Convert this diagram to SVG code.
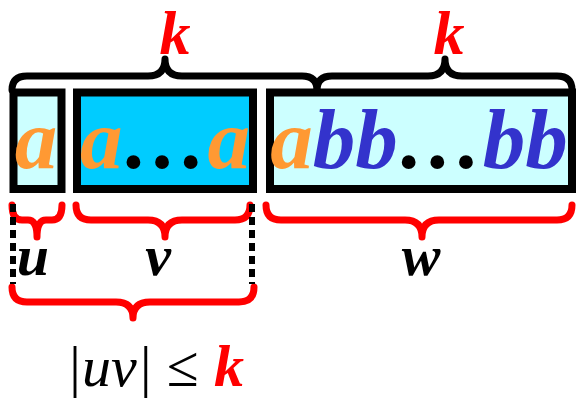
<svg xmlns="http://www.w3.org/2000/svg" width="577" height="399" viewBox="0 0 577 399">
<style>
.box{stroke:#000;stroke-width:8}
.bt{font-family:"Liberation Serif","Times New Roman",serif;font-weight:bold;font-style:italic;font-size:85px}
.kb{font-family:"Liberation Serif","Times New Roman",serif;font-weight:bold;font-style:italic;fill:#FF0000}
.lab{font-family:"Liberation Serif","Times New Roman",serif;font-weight:bold;font-style:italic;font-size:58px;fill:#000;text-anchor:middle}
.brk{fill:none;stroke:#000;stroke-width:7;stroke-linejoin:round;stroke-linecap:round}
.brr{fill:none;stroke:#FF0000;stroke-width:7;stroke-linejoin:round;stroke-linecap:round}
.dot{fill:none;stroke:#000;stroke-width:6;stroke-dasharray:8 5}
.or{fill:#FF9933}.bl{fill:#3333CC}.bk{fill:#000}
</style>
<g id="box-u">
<rect class="box" x="13.5" y="92.5" width="48" height="96.5" fill="#CCFFFF"/>
<text class="bt" x="36" y="168" text-anchor="middle"><tspan class="or">a</tspan></text>
</g>
<g id="box-v">
<rect class="box" x="77" y="92.5" width="176" height="96.5" fill="#00CCFF"/>
<text class="bt" x="165" y="168" text-anchor="middle"><tspan class="or">a</tspan><tspan class="bk">…</tspan><tspan class="or">a</tspan></text>
</g>
<g id="box-w">
<rect class="box" x="270" y="92.5" width="302" height="96.5" fill="#CCFFFF"/>
<text class="bt" x="419" y="168" text-anchor="middle"><tspan class="or">a</tspan><tspan class="bl">bb</tspan><tspan class="bk">…</tspan><tspan class="bl">bb</tspan></text>
</g>
<g id="connectors">
<path class="brk" d="M12,90 Q12,76 27,76 L148,76 Q165,76 165,59 Q165,76 182,76 L302,76 Q317,76 317,90"/>
<path class="brk" d="M317,90 Q317,76 332,76 L428,76 Q445,76 445,59 Q445,76 462,76 L557,76 Q572,76 572,90"/>
<path class="brr" d="M12,205 Q12,220 22,220 L28,220 Q37,220 37,237 Q37,220 46,220 L52,220 Q62,220 62,205"/>
<path class="brr" d="M76,205 Q76,220 91,220 L148,220 Q165,220 165,237 Q165,220 182,220 L235,220 Q250,220 250,205"/>
<path class="brr" d="M266,205 Q266,220 281,220 L405,220 Q422,220 422,237 Q422,220 439,220 L557,220 Q572,220 572,205"/>
<path class="brr" d="M12,287 Q12,302 27,302 L116,302 Q133,302 133,318 Q133,302 150,302 L239,302 Q254,302 254,287"/>
<line class="dot" x1="13" y1="204" x2="13" y2="284"/>
<line class="dot" x1="252" y1="204" x2="252" y2="284"/>
</g>
<g id="labels">
<text class="kb" x="175" y="54" font-size="62" text-anchor="middle">k</text>
<text class="kb" x="449" y="54" font-size="62" text-anchor="middle">k</text>
<text class="lab" x="33" y="275">u</text>
<text class="lab" x="158" y="275">v</text>
<text class="lab" x="421" y="275">w</text>
<text x="66" y="386" font-family="Liberation Serif, Times New Roman, serif" font-style="italic" font-size="58" fill="#000">|uv|</text>
<text x="167" y="386" font-family="Liberation Serif, Times New Roman, serif" font-size="58" fill="#000">≤</text>
<text class="kb" x="214" y="386" font-size="60">k</text>
</g>
</svg>
